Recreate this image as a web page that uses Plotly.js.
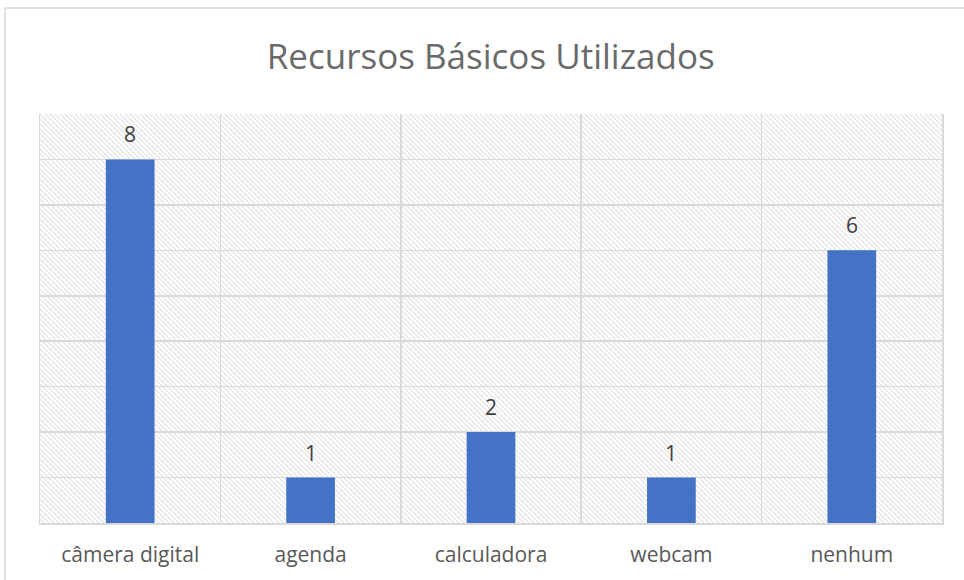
<!DOCTYPE html>
<html>
<head>
<meta charset="utf-8">
<script src="https://cdn.plot.ly/plotly-3.0.1.min.js"></script>
<style>html,body{margin:0;padding:0;background:#fff;}#chart{width:964px;height:580px;}</style>
</head>
<body>
<div id="chart"></div>
<script>
const categories = ["câmera digital", "agenda", "calculadora", "webcam", "nenhum"];
const values = [8, 1, 2, 1, 6];
const chartTitle = "Recursos Básicos Utilizados";

const hatch = '<svg xmlns="http://www.w3.org/2000/svg" width="902" height="409" viewBox="0 0 902 409" preserveAspectRatio="none">' +
  '<defs><pattern id="p" width="5" height="5" patternUnits="userSpaceOnUse">' +
  '<path d="M-1,-1 L6,6 M-1,4 L1,6 M4,-1 L6,1" stroke="#e0e0e0" stroke-width="1.1"/></pattern></defs>' +
  '<rect width="902" height="409" fill="url(#p)"/></svg>';
const hatchUri = 'data:image/svg+xml;charset=utf-8,' + encodeURIComponent(hatch);

const trace = {
  type: 'bar',
  x: categories,
  y: values,
  width: 0.27,
  marker: {color: '#4472C4'},
  hoverinfo: 'x+y'
};

const labelFont = {family: 'Open Sans, Calibri, sans-serif', size: 21, color: '#404040'};
const annotations = categories.map((c, i) => ({
  x: c, y: values[i], xref: 'x', yref: 'y',
  text: String(values[i]), showarrow: false,
  xanchor: 'center', yanchor: 'bottom', yshift: 9,
  font: labelFont
}));

const layout = {
  width: 964, height: 580,
  margin: {l: 40, r: 22, t: 114, b: 57},
  paper_bgcolor: '#ffffff',
  plot_bgcolor: 'rgba(0,0,0,0)',
  showlegend: false,
  title: {
    text: chartTitle,
    font: {family: 'Open Sans, Calibri Light, sans-serif', size: 35, color: '#6a6a6a'},
    x: 0.509, xanchor: 'center', y: 0.903, yanchor: 'middle'
  },
  xaxis: {
    type: 'category',
    tickson: 'boundaries',
    showgrid: true, gridcolor: '#d9d9d9', gridwidth: 1.5,
    ticks: '', showline: true, linecolor: '#d9d9d9', linewidth: 1.5,
    ticklabelstandoff: 12,
    tickfont: {family: 'Open Sans, Calibri, sans-serif', size: 21, color: '#595959'},
    fixedrange: true
  },
  yaxis: {
    range: [0, 9], dtick: 1,
    showgrid: true, gridcolor: '#d9d9d9', gridwidth: 1.5,
    showticklabels: false, zeroline: false, ticks: '',
    showline: true, mirror: true, linecolor: '#d9d9d9', linewidth: 1.5,
    fixedrange: true
  },
  annotations: annotations,
  images: [{
    source: hatchUri, xref: 'paper', yref: 'paper',
    x: 0, y: 1, sizex: 1, sizey: 1, xanchor: 'left', yanchor: 'top',
    sizing: 'stretch', layer: 'below'
  }],
  shapes: [{
    type: 'rect', xref: 'paper', yref: 'paper',
    x0: -0.0388, x1: 1.2, y0: -0.5, y1: 1.259,
    line: {color: '#d9d9d9', width: 1.5}, fillcolor: 'rgba(0,0,0,0)', layer: 'below'
  }]
};

Plotly.newPlot('chart', [trace], layout, {displayModeBar: false, staticPlot: true});
</script>
</body>
</html>
